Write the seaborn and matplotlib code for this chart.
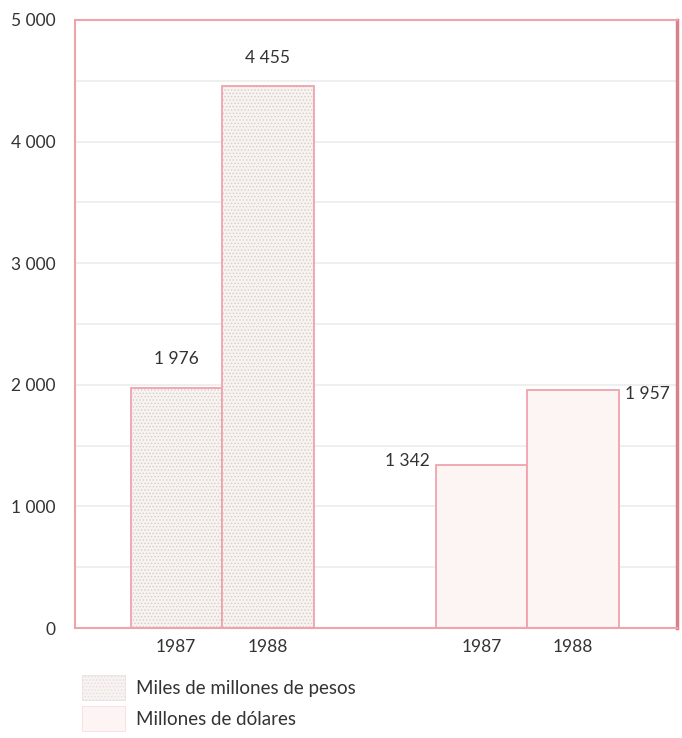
import matplotlib
matplotlib.use('Agg')
import matplotlib.pyplot as plt
import matplotlib.patches as mpatches
import pandas as pd
import seaborn as sns

# Data
series = ['Miles de millones de pesos', 'Millones de dólares']
years = ['1987', '1988']
pesos = [1976, 4455]
dolares = [1342, 1957]
y_ticks = [0, 1000, 2000, 3000, 4000, 5000]

df = pd.DataFrame({
    'serie': [series[0]] * 2 + [series[1]] * 2,
    'año': years + years,
    'valor': pesos + dolares,
})

def fmt(v):
    return f'{v:,}'.replace(',', ' ')

sns.set_style('white')
plt.rcParams['font.family'] = ['Lato', 'DejaVu Sans']
plt.rcParams['hatch.linewidth'] = 0.6

pink = '#f0a3ad'
text_col = '#333333'

fig = plt.figure(figsize=(6.82, 7.38), dpi=100)
ax = fig.add_axes([0.11, 0.149, 0.883, 0.824])

sns.barplot(data=df, x='serie', y='valor', hue='año', order=series, hue_order=years,
            width=0.6, dodge=True, legend=False, ax=ax, palette=['white', 'white'])

# restyle bars by series
bars = [p for p in ax.patches if p.get_height() > 0]
bars = sorted(bars, key=lambda p: p.get_x())
for i, p in enumerate(bars):
    p.set_edgecolor(pink)
    p.set_linewidth(1.3)
    if i < 2:
        p.set_facecolor('#f7f3f1')
        p.set_hatch('.....')
        p._hatch_color = matplotlib.colors.to_rgba('#d8cbc9')
    else:
        p.set_facecolor('#fdf4f4')

ax.set_xlim(-0.482, 1.492)
ax.set_ylim(0, 5000)

# faint grid every 500
for yv in range(500, 5000, 500):
    ax.axhline(yv, color='#ececec', lw=1.2, zorder=0)

ax.set_yticks(y_ticks)
ax.set_yticklabels([fmt(v) for v in y_ticks], fontsize=12.5, color=text_col)
ax.set_xticks([p.get_x() + p.get_width() / 2 for p in bars])
ax.set_xticklabels(years + years, fontsize=12.5, color=text_col)
ax.tick_params(axis='y', length=0, pad=14)
ax.tick_params(axis='x', length=0, pad=8)
ax.set_xlabel('')
ax.set_ylabel('')

for s in ax.spines.values():
    s.set_color(pink)
    s.set_linewidth(1.5)
ax.spines['right'].set_color('#d98088')
ax.spines['right'].set_linewidth(2.5)

# value labels
vals = pesos + dolares
for i, p in enumerate(bars):
    cx = p.get_x() + p.get_width() / 2
    top = p.get_height()
    if i < 2:
        ax.text(cx, top + 170, fmt(vals[i]), ha='center', va='bottom', fontsize=12.5, color=text_col)
    elif i == 2:
        ax.text(p.get_x() - 0.02, top + 30, fmt(vals[i]), ha='right', va='center', fontsize=12.5, color=text_col)
    else:
        ax.text(p.get_x() + p.get_width() + 0.02, top - 30, fmt(vals[i]), ha='left', va='center', fontsize=12.5, color=text_col)

handles = [
    mpatches.Patch(facecolor='#f7f3f1', edgecolor='#eadcda', hatch='.....', lw=0.5, label=series[0]),
    mpatches.Patch(facecolor='#fdf4f4', edgecolor='#f6d6da', lw=0.5, label=series[1]),
]
fig.legend(handles=handles, loc='upper left', bbox_to_anchor=(0.095, 0.108), frameon=False,
           fontsize=13.5, handlelength=2.3, handleheight=1.7, labelspacing=0.3,
           handletextpad=0.6, labelcolor=text_col)

fig.savefig('out.png', dpi=100)
